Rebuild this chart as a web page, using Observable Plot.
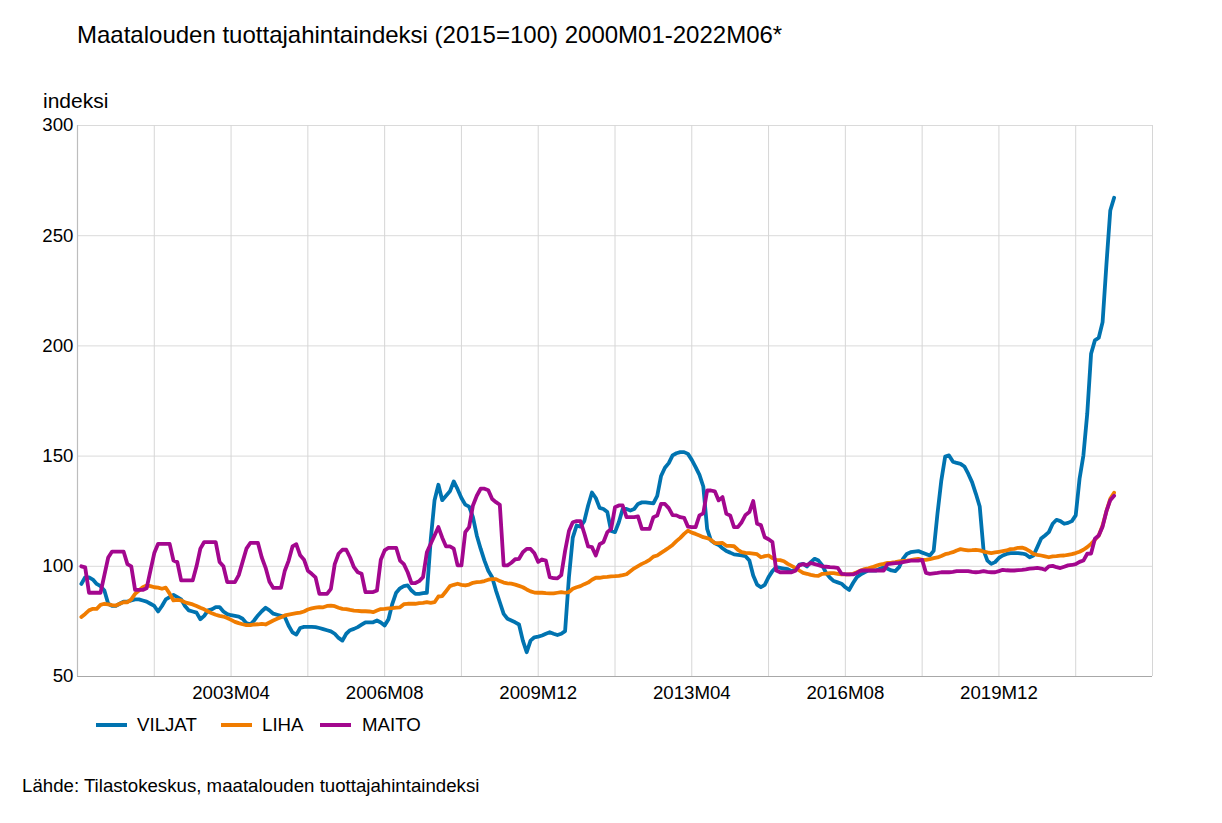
<!DOCTYPE html>
<html><head><meta charset="utf-8">
<script src="https://cdn.jsdelivr.net/npm/d3@7"></script>
<script src="https://cdn.jsdelivr.net/npm/@observablehq/plot@0.6"></script>
<style>
body{margin:0;background:#fff;font-family:"Liberation Sans",Arial,sans-serif;color:#000}
#wrap{position:relative;width:1222px;height:823px;overflow:hidden;background:#fff}
.t{position:absolute;white-space:nowrap;line-height:1}
.sw{position:absolute;height:4px;width:31px}
#plot{position:absolute;left:0;top:100px}
</style></head><body><div id="wrap">
<div class="t" style="left:77px;top:23px;font-size:24px">Maatalouden tuottajahintaindeksi (2015=100) 2000M01-2022M06*</div>
<div class="t" style="left:43px;top:90px;font-size:21px">indeksi</div>
<div id="plot"></div>
<div id="legend"></div>
<div class="t" style="left:22px;top:777px;font-size:18.67px">Lähde: Tilastokeskus, maatalouden tuottajahintaindeksi</div>
</div>
<script>
const seriesNames = ["VILJAT", "LIHA", "MAITO"];
const seriesColors = ["#0073b0", "#f07c00", "#a3078e"];
const yTicks = [50, 100, 150, 200, 250, 300];
const tickLabels = ["2003M04", "2006M08", "2009M12", "2013M04", "2016M08", "2019M12"];
const firstYear = 2000, monthCount = 270;

const VILJAT = [
92,95,95,94,92,91,89,83,82,82,83,84,
84,84.5,85,85,84.5,84,83,82,79.5,82,85,86,
87,86,85,82,80,79.5,79,76,77.5,80,80.5,81.5,
81.5,79.5,78.3,77.8,77.5,77.2,76.2,74.2,73.6,75.4,77.7,79.6,
81.2,80,78.5,78,77.5,77,73,70,69,72,72.5,72.5,
72.5,72.4,72,71.5,71,70.5,69.4,67.5,66.3,69.4,71,71.6,
72.4,73.5,74.6,74.6,74.6,75.4,74.5,73.1,76,83,88,90,
91,91.3,89,87.5,87.5,87.8,88,112,130,137,130,132,
134,138.5,135,131,128,127.1,122.3,114,108,102.6,98,95,
89,83.7,78.4,76.2,75.4,74.6,73.6,66.3,61,66.3,67.8,68.1,
68.6,69.4,70.1,69.4,68.8,69.4,70.6,95,113,118.5,118,120.5,
127.6,133.5,131,126.5,126,124.6,116,115.5,120,126,126,125.3,
126,128.3,129,129,128.8,128.6,132,141,144.7,146.8,150.3,151.3,
151.8,151.8,151,148.3,145,141.5,136.2,117,111.7,110.5,109.7,108.2,
106.9,106.2,105.4,105.2,105,104.6,102.6,95.8,91.7,90.5,91.6,95.1,
97.8,99.6,99.3,99,98.7,97.8,98.4,100.8,101.1,99.9,101.9,103.4,
102.6,100.4,96.9,94.8,93.3,92.7,92.1,90.5,89.3,92.4,95.1,96.3,
97.3,98.1,98.1,98.1,98.9,99.6,98.9,98.1,97.8,99.6,103.4,105.6,
106.4,106.7,106.9,106.2,105.6,104.9,107,124,139,149.8,150.3,147.5,
146.9,146.5,145.3,142,138.2,132.9,127.1,107.2,102.6,101.1,101.9,103.8,
104.9,105.6,106,106,106,105.8,105.4,104.1,104.9,108.7,112.6,114,
115.5,119.3,121.1,120.5,119.3,119.7,120.5,123.1,139.7,150.3,169.2,196.4,
202.5,203.7,210.8,237,261.4,267.2];

const LIHA = [
77,78.4,80,80.7,80.7,82.5,83,82.7,82.4,82.2,83,83.7,
83.7,85,87.5,89,90.5,91.3,91,90.5,90.3,89.8,90.3,87.6,
84.5,84.8,84.5,83.7,83.2,82.7,82,81.2,80.5,79.5,78.7,78,
77.5,77.2,76.5,75.7,74.8,74.2,73.7,73.3,73.3,73.6,73.7,73.9,
73.6,74.5,75.4,76.2,76.9,77.7,78.1,78.4,78.7,79,79.5,80.4,
80.9,81.2,81.5,81.4,82,82.2,81.9,81.2,80.7,80.6,80.2,79.9,
79.8,79.6,79.6,79.5,79.2,79.9,80.6,80.7,80.9,81,81.2,81.4,
82.8,83,83,83,83.3,83.4,83.7,83.4,83.7,86.3,86.5,88.7,
91,91.6,92.1,91.6,91.3,91.7,92.5,92.8,92.9,93.3,93.9,94.2,
94.2,93.3,92.6,92.3,92.1,91.7,91.1,90.5,89.5,88.6,88.1,88,
88,87.8,87.7,87.7,88,88.3,88,88.3,89.8,90.5,91,91.9,
92.6,93.9,94.8,94.8,95.1,95.2,95.4,95.5,95.7,96,96.4,97.8,
99.1,100.1,101.1,101.9,102.9,104.4,104.9,106.1,107.2,108.4,109.7,111.4,
112.9,114.7,116.2,115.3,114.7,114,113.2,112.8,112,110.5,110.5,110.6,
109.3,109.3,109.1,107.5,106.4,106.1,106,105.8,105.5,104.1,104.6,104.9,
103.7,102.9,102.8,102.3,101.1,100.2,99.3,98.1,97,96.6,96.1,95.8,
95.7,96.6,96.7,96.9,96.9,96.6,96.3,96.3,96.3,96.6,97.3,98.1,
98.7,99.1,99.6,100.2,100.8,101.1,101.6,101.7,101.9,102.2,102.5,102.6,
102.8,103.1,103.4,102.9,102.9,103.2,103.7,104,104.7,105.5,105.9,106.4,
107.2,107.8,107.5,107.2,107.3,107.5,107.2,106.7,106.3,106,106.3,106.6,
106.9,107.2,107.8,107.9,108.4,108.5,107.9,106.9,105.6,105.2,104.9,104.5,
104.1,104.5,104.6,104.8,104.9,105.2,105.5,106,106.6,107.5,108.7,110.2,
112,114,118.5,125,130.6,133.4];

const MAITO = [
100,99.5,88,88,88,88,96,104,106.7,106.7,106.7,106.7,
101,100,89.3,89.3,89.3,90,98,106,110.2,110.2,110.2,110.2,
102.6,101.9,93.6,93.6,93.6,93.6,100,108,111,111,111,111,
102,100,92.8,92.8,92.8,96,102,108,110.6,110.6,110.6,104,
99.3,93,90.2,90.2,90.2,98,102.6,109,110,105,103,98,
96.6,95,87.5,87.5,87.5,89.8,101,105.7,107.5,107.5,104,99.6,
97.3,96.6,88.3,88.3,88.3,89,103,107.2,108.4,108.4,108.4,102.6,
101,97.3,92.4,92.4,93.3,95.1,106.4,110.2,114,117.8,113,109,
109,108,100.4,100.4,115.5,117.8,127.6,132,135.2,135.2,134.5,130.5,
129.1,127.9,100.4,100.4,101.6,103.2,103.4,106.4,107.9,107.9,105.9,102,
103.1,102.6,95.1,94.6,94.5,96,107,116,120,120.5,120.5,115,
109,108.7,104.9,110,111,115.5,117,126.8,127.6,127.6,122.3,122.3,
122.3,122.6,117,117,117,122.3,123,128.3,128.3,126.4,123.2,123.1,
122.3,122,118,117.8,117.8,123.1,124,134.4,134.4,134,129.9,131.4,
123.8,123.1,117.8,117.8,120,123.3,124.6,129.6,119.3,118.7,113.2,112.3,
111,98.1,97.3,97.3,97.3,97.3,98,100.4,101,100.5,101.5,101,
100.5,100,99.8,99.6,99.5,99.3,96.6,96.4,96.3,96.3,97,98,
98.1,98.1,98.1,98.1,98.1,98.1,101,101.2,101.4,101.6,101.9,102.2,
102.6,102.6,102.6,102.9,97,96.6,96.8,97,97.3,97.3,97.3,97.5,
97.8,97.8,97.8,97.8,97.5,97.3,97.5,97.8,97.5,97.3,97.3,97.8,
98.4,98.2,98.1,98.1,98.3,98.4,98.6,98.9,99.1,99.3,99,98.4,
100,100.2,99.6,99.2,99.8,100.4,100.6,101,102,102.6,105.7,105.8,
112.5,114,118,125,130,132];

const months = d3.range(monthCount + 12).map(i => `${firstYear + Math.floor(i / 12)}M${String(i % 12 + 1).padStart(2, "0")}`);
const labelIdx = tickLabels.map(l => months.indexOf(l));
const gridIdx = d3.range(19, 280, 20);
const valuesByName = {VILJAT, LIHA, MAITO};
const data = seriesNames.flatMap(name => valuesByName[name].map((v, i) => ({i, v, name})));

const chart = Plot.plot({
  width: 1222, height: 616,
  marginLeft: 77, marginRight: 70, marginTop: 25, marginBottom: 40,
  style: {fontFamily: '"Liberation Sans", Arial, sans-serif', fontSize: "18.67px", color: "#000", background: "transparent", overflow: "visible"},
  x: {type: "linear", domain: [-1, 279]},
  y: {domain: [50, 300]},
  color: {domain: seriesNames, range: seriesColors},
  marks: [
    Plot.ruleY(yTicks, {stroke: "#dadada", strokeWidth: 1}),
    Plot.ruleX(gridIdx, {stroke: "#d6d6d6", strokeWidth: 1}),
    Plot.ruleX([-1], {stroke: "#bdbdbd", strokeWidth: 1.2}),
    Plot.ruleY([50], {stroke: "#a8a8a8", strokeWidth: 1.2}),
    Plot.axisY({ticks: yTicks, tickSize: 0, tickPadding: 4, label: null}),
    Plot.axisX({ticks: labelIdx, tickFormat: i => months[i], tickSize: 0, tickPadding: 9, label: null}),
    Plot.lineY(data, {x: "i", y: "v", z: "name", stroke: "name", strokeWidth: 3.8, strokeLinejoin: "round", strokeLinecap: "round"})
  ]
});
document.getElementById("plot").appendChild(chart);

const legend = document.getElementById("legend");
const legendPos = [[96, 137], [221, 262], [320, 362]];
seriesNames.forEach((name, k) => {
  const sw = document.createElement("div");
  sw.className = "sw";
  sw.style.left = legendPos[k][0] + "px";
  sw.style.top = "723px";
  sw.style.background = seriesColors[k];
  legend.appendChild(sw);
  const t = document.createElement("div");
  t.className = "t";
  t.style.left = legendPos[k][1] + "px";
  t.style.top = "716px";
  t.style.fontSize = "18.67px";
  t.textContent = name;
  legend.appendChild(t);
});
</script>
</body></html>
